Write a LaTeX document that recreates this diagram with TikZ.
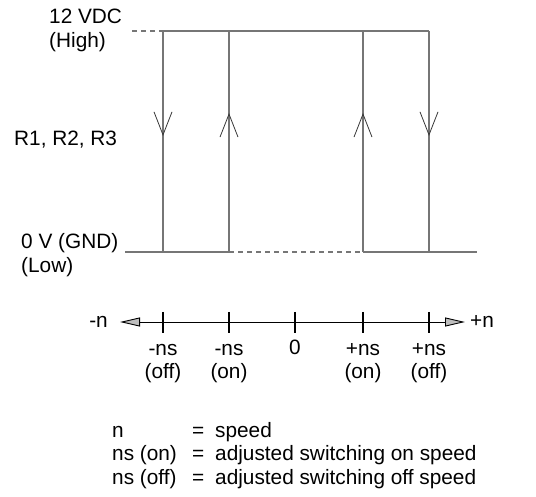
\documentclass[tikz,border=0pt]{standalone}
\usepackage{fontspec}
\setmainfont{Liberation Sans}
\usepackage{xcolor}
\usetikzlibrary{arrows.meta,decorations.markings}

\definecolor{wiregray}{RGB}{118,118,118}
\definecolor{tipgray}{RGB}{55,55,55}
\definecolor{headgray}{RGB}{190,190,190}

\begin{document}
\begin{tikzpicture}[x=1pt, y=-1pt,
    every node/.style={font=\fontsize{20.8}{23.5}\selectfont, inner sep=0pt},
    wire/.style={draw=wiregray, line width=1.1pt},
    dashwire/.style={wire, dash pattern=on 5pt off 4pt},
    flow/.style={wire, postaction={decorate},
      decoration={markings, mark=at position #1 with
        {\arrow{Straight Barb[length=23pt, width=18pt, line width=0.8pt, color=tipgray]}}}},
    axis/.style={draw=black, line width=0.9pt,
      {Triangle[length=20pt, width=9pt, fill=headgray]}-{Triangle[length=20pt, width=9pt, fill=headgray]}},
    tick/.style={draw=black, line width=2.2pt}]

    \useasboundingbox (0,0) rectangle (536,497);

    % rails
    \coordinate (hs) at (132, 31);
    \coordinate (ls) at (125, 252);
    \coordinate (le) at (477, 252);
    \foreach \i/\x in {1/163, 2/229, 3/363, 4/429} {
        \coordinate (h\i) at (\x, 31);
        \coordinate (l\i) at (\x, 252);
    }

    \draw [dashwire] (hs) -- (h1);
    \draw [wire] (h1) -- (h4);
    \draw [wire] (ls) -- (l2);
    \draw [dashwire] (l2) -- (l3);
    \draw [wire] (l3) -- (le);

    \draw [flow=0.475] (h1) -- (l1);
    \draw [flow=0.629] (l2) -- (h2);
    \draw [flow=0.629] (l3) -- (h3);
    \draw [flow=0.475] (h4) -- (l4);

    \node (high) [anchor=base west, align=left] at (49, 47.5) {12 VDC\\(High)};
    \node (res) [anchor=base west] at (14, 145.5) {R1, R2, R3};
    \node (low) [anchor=base west, align=left] at (21, 272.5) {0 V (GND)\\(Low)};

    % speed axis
    \coordinate (a1) at (120, 322);
    \coordinate (a2) at (465, 322);
    \draw [axis] (a1) -- (a2);
    \foreach \x in {163, 229, 295, 363, 429}
        \draw [tick] (\x, 312) -- (\x, 333);

    \node (nneg) [anchor=base east] at (108, 327) {-n};
    \node (npos) [anchor=base west] at (470, 327) {+n};

    \node (t1) [anchor=base, align=center] at (163, 378.5) {-ns\\(off)};
    \node (t2) [anchor=base, align=center] at (229, 378.5) {-ns\\(on)};
    \node (t3) [anchor=base] at (295, 355) {0};
    \node (t4) [anchor=base, align=center] at (363, 378.5) {+ns\\(on)};
    \node (t5) [anchor=base, align=center] at (429, 378.5) {+ns\\(off)};

    % legend
    \node (k1) [anchor=base west] at (112, 437) {n};
    \node (k2) [anchor=base west] at (112, 460.5) {ns (on)};
    \node (k3) [anchor=base west] at (112, 484) {ns (off)};
    \node (e1) [anchor=base west] at (192, 437) {=};
    \node (e2) [anchor=base west] at (192, 460.5) {=};
    \node (e3) [anchor=base west] at (192, 484) {=};
    \node (d1) [anchor=base west] at (215, 437) {speed};
    \node (d2) [anchor=base west] at (215, 460.5) {adjusted switching on speed};
    \node (d3) [anchor=base west] at (215, 484) {adjusted switching off speed};

\end{tikzpicture}
\end{document}
